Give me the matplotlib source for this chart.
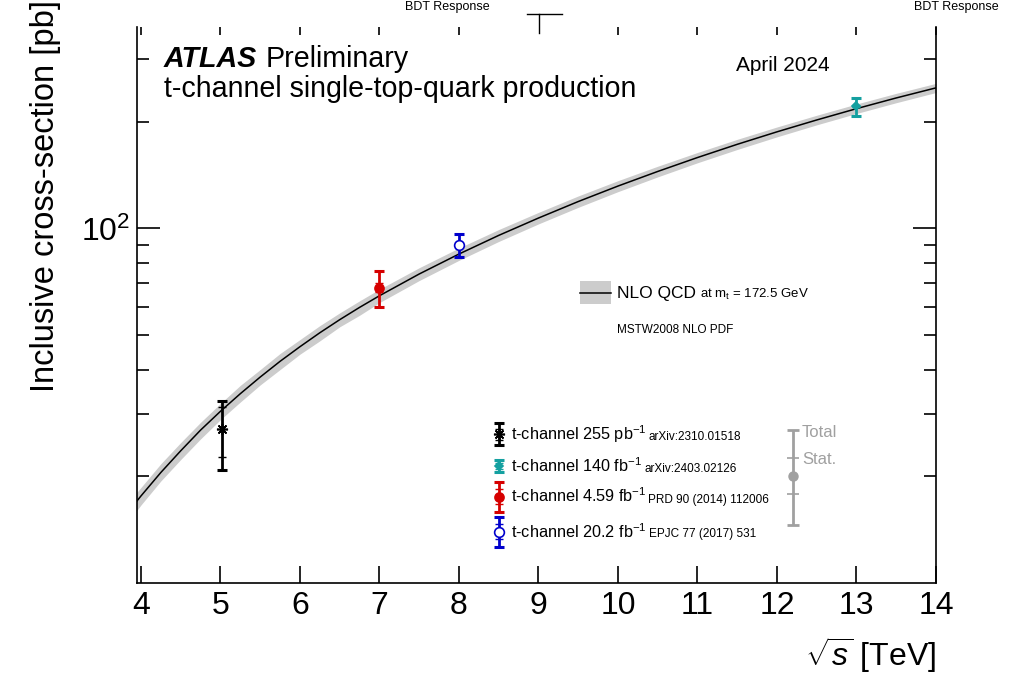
import matplotlib.pyplot as plt
import matplotlib.ticker as mticker
from matplotlib.lines import Line2D
from matplotlib.transforms import blended_transform_factory

plt.rcParams['font.family'] = ['Liberation Sans', 'DejaVu Sans']
plt.rcParams['mathtext.fontset'] = 'custom'
plt.rcParams['mathtext.rm'] = 'Liberation Sans'
plt.rcParams['mathtext.it'] = 'Liberation Sans:italic'
plt.rcParams['mathtext.bf'] = 'Liberation Sans:bold'
plt.rcParams['mathtext.sf'] = 'Liberation Sans'

W, H = 1021, 677

# NLO QCD prediction for t-channel single top (pb), with scale+PDF band
sqrt_s_th = [3.9, 4.0, 4.25, 4.5, 4.75, 5.0, 5.25, 5.5, 5.75, 6.0, 6.25, 6.5, 6.75, 7.0,
             7.5, 8.0, 8.5, 9.0, 9.5, 10.0, 10.5, 11.0, 11.5, 12.0, 12.5, 13.0, 13.5, 14.0]
xsec_th = [16.5, 17.6, 20.5, 23.6, 27.0, 30.5, 34.2, 38.1, 42.2, 46.4, 50.8, 55.3, 59.9, 64.6,
           74.4, 84.7, 95.6, 107.0, 119.1, 131.7, 144.8, 158.5, 172.7, 187.3, 202.3, 217.7,
           233.4, 249.2]
xsec_th_lo = [15.5, 16.6, 19.4, 22.3, 25.5, 28.9, 32.4, 36.2, 40.0, 44.2, 48.2, 52.8, 56.9,
              61.8, 71.3, 81.3, 91.9, 103.0, 114.7, 127.0, 139.8, 153.2, 167.0, 181.3, 196.0,
              211.0, 226.3, 241.8]
xsec_th_hi = [17.5, 18.6, 21.7, 24.9, 28.4, 32.1, 36.1, 40.0, 44.4, 48.6, 53.2, 57.8, 62.5,
              67.4, 77.5, 88.1, 99.3, 111.0, 123.5, 136.4, 149.8, 163.8, 178.4, 193.3, 208.6,
              224.4, 240.5, 256.6]

# ATLAS measurements
meas_sqrt_s = [5.02, 13.0, 7.0, 8.0]
meas_xsec = [27.1, 221.0, 68.0, 89.6]
meas_tot_up = [5.5, 13.0, 8.0, 7.1]
meas_tot_dn = [6.3, 13.0, 8.0, 6.3]
meas_stat_up = [4.2, 1.0, 2.0, 1.2]
meas_stat_dn = [4.4, 1.0, 2.0, 1.2]
meas_labels = ['t-channel 255 pb$^{-1}$', 't-channel 140 fb$^{-1}$',
               't-channel 4.59 fb$^{-1}$', 't-channel 20.2 fb$^{-1}$']
meas_refs = ['arXiv:2310.01518', 'arXiv:2403.02126',
             'PRD 90 (2014) 112006', 'EPJC 77 (2017) 531']
meas_colors = ['black', '#14a0a0', '#d60000', '#0000cc']
meas_markers = [(8, 2, 0), 'D', 'o', 'o']
meas_msize = [8, 4.5, 6.5, 7]
meas_face = ['black', '#14a0a0', '#d60000', 'white']

top_ticks = [4, 5, 6, 7, 8, 10, 11, 12, 13, 14]

fig = plt.figure(figsize=(W / 100, H / 100), dpi=100)
ax = fig.add_axes([137 / W, 94 / H, 799 / W, 556 / H])

ax.fill_between(sqrt_s_th, xsec_th_lo, xsec_th_hi, color='#cccccc', lw=0, zorder=1)
ax.plot(sqrt_s_th, xsec_th, color='black', lw=1.1, zorder=2)

for x, y, tu, td, su, sd, c, m, ms, fc in zip(meas_sqrt_s, meas_xsec, meas_tot_up, meas_tot_dn,
                                               meas_stat_up, meas_stat_dn, meas_colors,
                                               meas_markers, meas_msize, meas_face):
    ax.errorbar([x], [y], yerr=[[td], [tu]], fmt='none', ecolor=c, elinewidth=2.0,
                capsize=3.8, capthick=2.2, zorder=4)
    ax.errorbar([x], [y], yerr=[[sd], [su]], fmt='none', ecolor=c, elinewidth=0,
                capsize=3.2, capthick=1.0, zorder=4)
    ax.plot([x], [y], ls='none', marker=m, ms=ms, mfc=fc, mec=c, mew=1.2, zorder=5)

ax.set_xlim(3.95, 14)
ax.set_yscale('log')
ax.set_ylim(10.0, 370)
ax.set_xticks(range(4, 15))
ax.yaxis.set_major_locator(mticker.FixedLocator([100]))
ax.yaxis.set_major_formatter(mticker.LogFormatterSciNotation())
ax.yaxis.set_minor_locator(mticker.LogLocator(subs=range(2, 10), numticks=20))
ax.yaxis.set_minor_formatter(mticker.NullFormatter())

for s in ax.spines.values():
    s.set_linewidth(1.2)
ax.spines['top'].set_visible(False)
ax.tick_params(axis='x', which='both', direction='in', length=12, width=1.2,
               labelsize=23, pad=6, top=False)
ax.tick_params(axis='x', which='minor', bottom=False)
ax.tick_params(axis='y', which='major', direction='in', length=16.5, width=1.2,
               labelsize=23, pad=5, right=True)
ax.tick_params(axis='y', which='minor', direction='in', length=8.3, width=1.2, right=True)

# short ticks along the open top edge
tr = blended_transform_factory(ax.transData, ax.transAxes)
ax.vlines(top_ticks, 1 - 8 / 556, 1, transform=tr, color='black', lw=1.2, clip_on=False)

ax.set_xlabel(r'$\sqrt{s}$ [TeV]', loc='right', fontsize=23, labelpad=10)
ax.set_ylabel('Inclusive cross-section [pb]', fontsize=23.5)
ax.yaxis.label.set(rotation_mode='default', ha='center', va='top')
ax.yaxis.set_label_coords((46 - 137) / 799, 583 / 556)

# overlay in pixel coordinates for labels and legend keys
ov = fig.add_axes([0, 0, 1, 1], zorder=10)
ov.set_xlim(0, W)
ov.set_ylim(H, 0)
ov.axis('off')


def text_after(prev, s, gap, **kw):
    fig.canvas.draw()
    bb = prev.get_window_extent(renderer=fig.canvas.get_renderer())
    return ov.text(bb.x1 + gap, prev.get_position()[1], s, va='baseline', **kw)


atlas = ov.text(164, 67, 'ATLAS', fontsize=20.6, fontweight='bold', fontstyle='italic',
                va='baseline')
text_after(atlas, 'Preliminary', 8, fontsize=20.6)
ov.text(164, 97, 't-channel single-top-quark production', fontsize=20.6, va='baseline')
ov.text(736, 71, 'April 2024', fontsize=15, va='baseline')

# stray header labels
ov.text(447, 7, 'BDT Response', fontsize=9, ha='center', va='center')
ov.text(956, 7, 'BDT Response', fontsize=9, ha='center', va='center')
ov.add_line(Line2D([527, 562], [14, 14], color='black', lw=1.0))
ov.add_line(Line2D([539, 539], [14, 33], color='black', lw=1.0))

# theory legend
ov.add_patch(plt.Rectangle((580, 281), 31, 23, color='#cccccc', lw=0))
ov.add_line(Line2D([580, 611], [292.5, 292.5], color='black', lw=1.1))
nlo = ov.text(617, 298, 'NLO QCD', fontsize=12.5, va='baseline')
text_after(nlo, r'at m$_{\mathrm{t}}$ = 172.5 GeV', 4, fontsize=9.5)
ov.text(617, 333, 'MSTW2008 NLO PDF', fontsize=8.5, va='baseline')

# measurement legend
key_x = 499
key_y = [434, 466, 496.5, 531.5]
key_half = [11, 6, 15, 15]
for ky, kh, lab, ref, c, m, ms, fc in zip(key_y, key_half, meas_labels, meas_refs,
                                          meas_colors, meas_markers, meas_msize, meas_face):
    ov.errorbar([key_x], [ky], yerr=[[kh], [kh]], fmt='none', ecolor=c, elinewidth=2.0,
                capsize=3.8, capthick=2.2)
    ov.errorbar([key_x], [ky], yerr=[[kh * 0.5], [kh * 0.5]], fmt='none', ecolor=c,
                elinewidth=0, capsize=3.2, capthick=1.0)
    ov.plot([key_x], [ky], ls='none', marker=m, ms=ms, mfc=fc, mec=c, mew=1.2)
    t = ov.text(511, ky + 6, lab, fontsize=11.7, va='baseline')
    text_after(t, ref, 2, fontsize=8.5)

# total / stat key
gray = '#a0a0a0'
ov.errorbar([793], [477.5], yerr=[[47.5], [47.5]], fmt='none', ecolor=gray, elinewidth=2.0,
            capsize=4.5, capthick=2.0)
ov.errorbar([793], [476], yerr=[[18], [18]], fmt='none', ecolor=gray, elinewidth=0,
            capsize=4.5, capthick=1.2)
ov.plot([793], [476], ls='none', marker='o', ms=6.5, color=gray)
ov.text(802, 437, 'Total', fontsize=12, color=gray, va='baseline')
ov.text(802, 464, 'Stat.', fontsize=12, color=gray, va='baseline')

fig.savefig('out.png', dpi=100)
